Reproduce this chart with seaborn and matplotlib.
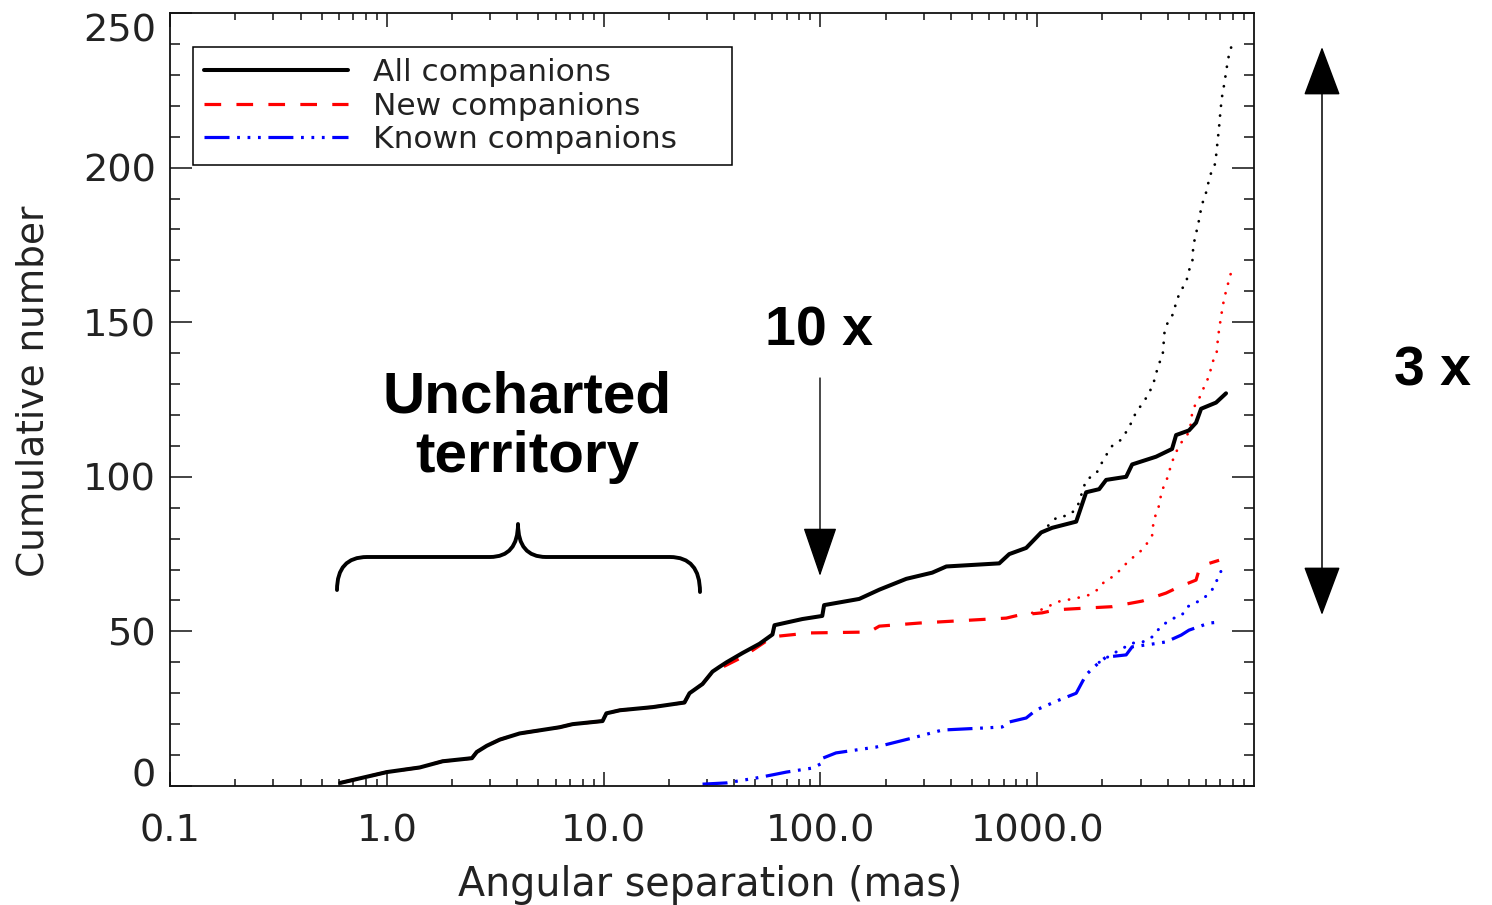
import numpy as np
import pandas as pd
import matplotlib
matplotlib.use("Agg")
import matplotlib.pyplot as plt
from matplotlib.patches import FancyArrowPatch, PathPatch
from matplotlib.path import Path
from matplotlib.ticker import FixedLocator, LogLocator, NullFormatter, MultipleLocator, FixedFormatter
import seaborn as sns

# Cumulative number of companions versus angular separation (mas)
sep_all = [0.61, 1.0, 1.42, 1.81, 2.47, 2.60, 2.89, 3.32, 4.10, 5.07, 6.27, 7.19,
           9.89, 10.3, 11.9, 16.8, 23.6, 24.9, 28.6, 31.8, 34.2, 36.9, 43.7, 52.4,
           60.1, 61.4, 82.6, 102, 104, 151, 187, 249, 328, 381, 668, 743, 890,
           1043, 1172, 1513, 1682, 1931, 2080, 2572, 2741, 3534, 4188, 4372, 5012,
           5404, 5700, 6683, 7430]
n_all = [1, 4.5, 6, 8, 9, 11, 13, 15, 17, 18, 19, 20,
         21, 23.5, 24.5, 25.5, 27, 30, 33, 37, 38.5, 40, 43, 46,
         49, 52, 54, 55, 58.5, 60.5, 63.5, 67, 69, 71, 72, 75, 77,
         82, 83.5, 85.5, 95, 96, 99, 100, 104, 106.5, 109, 113.5, 115,
         117.5, 122, 124, 127]

# Completeness-corrected extension of all companions
sep_all_ext = [1043, 1236, 1403, 1528, 1682, 1871, 2037, 2218, 2439, 2600, 2741,
               2860, 3048, 3282, 3461, 3616, 3793, 3866, 4003, 4266, 4372, 4582,
               4870, 4993, 5198, 5233, 5324, 5483, 5623, 5727, 5976, 6143, 6321,
               6622, 6718, 6792, 6892, 6962, 7040, 7145, 7300, 7430, 7565, 7752, 8130]
n_all_ext = [82, 87, 87.5, 90, 99, 101, 106, 110, 112, 115, 118,
             121, 123.5, 127, 131, 135.9, 139.5, 146.8, 150, 153, 156.6, 160,
             163, 166.4, 169.7, 173.3, 176.8, 180.6, 184.2, 187.7, 191.2, 194.8, 198,
             201.3, 205.1, 208.6, 212.6, 216.3, 219.9, 223.7, 227.2, 230.8, 234.4, 238.1, 241.1]

sep_new = sep_all[:20] + [33.2, 43.7, 60.1, 64.7, 88.9, 168, 187, 286, 720, 826,
                          1054, 1224, 1738, 2218, 3048, 3929, 4508, 5404, 5579,
                          6209, 6902]
n_new = n_all[:20] + [37.5, 41.7, 48.2, 48.5, 49.5, 49.8, 51.7, 52.7, 54.3, 55.3,
                      56, 57, 57.6, 58, 59.8, 62.4, 64.4, 66.6, 69.9, 72, 73]

sep_new_ext = [948, 1099, 1224, 1528, 1738, 1889, 2037, 2265, 2466, 2655, 2951,
               3178, 3388, 3427, 3534, 3689, 3726, 3929, 4055, 4188, 4372, 4613,
               4966, 5128, 5180, 5404, 5727, 5930, 6252, 6363, 6718, 6792, 6892,
               7014, 7145, 7300, 7533, 7752, 8130]
n_new_ext = [56, 57.6, 59.5, 60.8, 61.8, 63.4, 66, 68, 70.5, 73, 75.4,
             78, 81, 84.4, 88.3, 91.5, 95, 98.3, 101.5, 104.8, 108, 111,
             114, 117.4, 120.6, 124, 126.6, 129.9, 132.8, 136.4, 139.7, 143.5, 147.3,
             150.8, 154.4, 158, 161.5, 165.1, 168.4]

sep_known = [28.6, 36.9, 50.7, 60.1, 69.7, 91.8, 102, 102.5, 118, 181, 265, 365,
             582, 690, 743, 890, 989, 1262, 1513, 1682, 1931, 2080, 2572, 2741,
             3388, 3929, 4613, 5012, 6209, 6902]
n_known = [0.6, 1, 2.6, 3.6, 4.5, 5.8, 7.4, 9, 10.7, 12.6, 15.5, 18.1,
           18.8, 19.1, 20.7, 22, 24.6, 27.8, 30, 36, 40, 41.7, 42.4, 45,
           45.9, 46.6, 48.8, 50.4, 52.7, 53]

sep_known_ext = [1931, 2265, 2741, 3048, 3388, 3766, 4278, 4656, 4909, 5461,
                 5888, 6402, 6752, 7121]
n_known_ext = [40, 43, 46.2, 46.5, 48.2, 52, 54.3, 55.3, 57.9, 59.5,
               60.8, 63.4, 66.6, 70.2]

x_ticks = [0.1, 1.0, 10.0, 100.0, 1000.0]
x_tick_labels = ["0.1", "1.0", "10.0", "100.0", "1000.0"]
y_ticks = [0, 50, 100, 150, 200, 250]

sns.set_style("white")
plt.rcParams["font.family"] = ["DejaVu Sans"]
plt.rcParams["lines.scale_dashes"] = False

W, H = 1492, 905
fig = plt.figure(figsize=(W / 100, H / 100), dpi=100)
ax = fig.add_axes([170 / W, 1 - 786 / H, 1084 / W, 773 / H])
ax.set_xscale("log")


def px(x, y):
    """Image pixel position (origin top-left) to figure fraction."""
    return (x / W, 1 - y / H)


def draw(xs, ys, **kw):
    sns.lineplot(x=np.asarray(xs, float), y=np.asarray(ys, float), ax=ax,
                 estimator=None, sort=False, **kw)


dot = (0, (0.1, 7.0))
draw(sep_all_ext, n_all_ext, color="black", lw=2.0, linestyle=dot, dash_capstyle="round")
draw(sep_new_ext, n_new_ext, color="red", lw=2.0, linestyle=dot, dash_capstyle="round")
draw(sep_known_ext, n_known_ext, color="blue", lw=2.2, linestyle=dot, dash_capstyle="round")

draw(sep_known, n_known, color="blue", lw=2.3,
     linestyle=(0, (18, 5.5, 2, 5.5, 2, 5.5, 2, 5.5)), label="Known companions")
draw(sep_new, n_new, color="red", lw=2.3, linestyle=(0, (12, 11)), label="New companions")
draw(sep_all, n_all, color="black", lw=2.9, label="All companions")

ax.set_xlim(0.1, 10000)
ax.set_ylim(0, 250)

# Axis ticks: inward on all four sides
ax.xaxis.set_major_locator(FixedLocator(x_ticks))
ax.xaxis.set_major_formatter(FixedFormatter(x_tick_labels))
ax.xaxis.set_minor_locator(LogLocator(base=10, subs=np.arange(2, 10), numticks=50))
ax.xaxis.set_minor_formatter(NullFormatter())
ax.yaxis.set_major_locator(FixedLocator(y_ticks))
ax.yaxis.set_minor_locator(MultipleLocator(10))

ax.tick_params(axis="x", which="major", direction="in", length=10, width=1.1,
               top=True, bottom=True, labelsize=27.5, pad=20, colors="#111111")
ax.tick_params(axis="x", which="minor", direction="in", length=5, width=1.1,
               top=True, bottom=True, colors="#111111")
ax.tick_params(axis="y", which="major", direction="in", length=16, width=1.1,
               left=True, right=True, labelsize=27.5, pad=10, colors="#111111")
ax.tick_params(axis="y", which="minor", direction="in", length=7.2, width=1.1,
               left=True, right=True, colors="#111111")
for lab in ax.get_xticklabels() + ax.get_yticklabels():
    lab.set_color("#222222")
for sp in ax.spines.values():
    sp.set_linewidth(1.3)
    sp.set_color("#111111")

yt = ax.yaxis.get_major_ticks()
yt[0].label1.set_va("baseline")
yt[-1].label1.set_va("top")

ax.set_xlabel("Angular separation (mas)", fontsize=28.5, color="#222222")
ax.set_ylabel("Cumulative number", fontsize=27, color="#222222")
ax.xaxis.set_label_coords(0.498, -0.102)
ax.yaxis.set_label_coords(-0.109, 0.511)

# Legend, boxed in the upper left
h, l = ax.get_legend_handles_labels()
order = [l.index("All companions"), l.index("New companions"), l.index("Known companions")]
leg = ax.legend([h[i] for i in order], [l[i] for i in order],
                loc="upper left", mode="expand",
                bbox_to_anchor=(193 / W, 1 - 166 / H, 539 / W, 119 / H),
                bbox_transform=fig.transFigure,
                borderaxespad=0, fontsize=22.5, handlelength=4.6, handletextpad=0.8,
                labelspacing=0.15, borderpad=0.35, fancybox=False, framealpha=1,
                edgecolor="black")
leg.get_frame().set_linewidth(1.1)
for t in leg.get_texts():
    t.set_color("#222222")

# Annotations
bold = dict(family="Liberation Sans", fontweight="bold", color="black")
fig.text(*px(819, 345), "10 x", ha="center", va="baseline", fontsize=40, **bold)
fig.text(*px(527, 412), "Uncharted", ha="center", va="baseline", fontsize=42, **bold)
fig.text(*px(527, 472), "territory", ha="center", va="baseline", fontsize=42, **bold)
fig.text(*px(1433, 385), "3 x", ha="center", va="baseline", fontsize=40, **bold)

arr1 = FancyArrowPatch(px(820, 378), px(820, 576), transform=fig.transFigure,
                       arrowstyle="-|>,head_length=32,head_width=11", mutation_scale=1,
                       shrinkA=0, shrinkB=0, lw=1.0, color="black")
fig.add_artist(arr1)
arr2 = FancyArrowPatch(px(1322, 47), px(1322, 615), transform=fig.transFigure,
                       arrowstyle="<|-|>,head_length=32,head_width=12", mutation_scale=1,
                       shrinkA=0, shrinkB=0, lw=1.1, color="black")
fig.add_artist(arr2)

brace_pts = [(337, 590), (337, 557), (367, 557), (490, 557), (518, 557), (518, 524),
             (518, 557), (546, 557), (670, 557), (700, 557), (700, 592)]
codes = [Path.MOVETO, Path.CURVE3, Path.CURVE3, Path.LINETO, Path.CURVE3, Path.CURVE3,
         Path.CURVE3, Path.CURVE3, Path.LINETO, Path.CURVE3, Path.CURVE3]
brace = PathPatch(Path([px(*p) for p in brace_pts], codes), transform=fig.transFigure,
                  fill=False, lw=2.8, edgecolor="black", capstyle="round", joinstyle="round")
fig.add_artist(brace)

fig.savefig("out.png", dpi=100, facecolor="white")
